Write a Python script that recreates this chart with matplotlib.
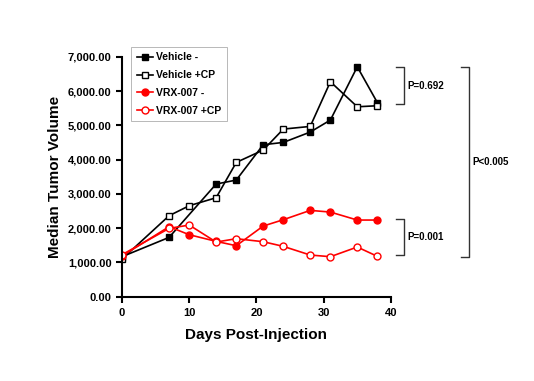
import matplotlib
matplotlib.use("Agg")
import matplotlib.pyplot as plt
from matplotlib.ticker import FuncFormatter

plt.rcParams['font.family'] = ['Liberation Sans', 'DejaVu Sans']
plt.rcParams['font.weight'] = 'bold'

days = [0, 7, 10, 14, 17, 21, 24, 28, 31, 35, 38]
vehicle_days = [0, 7, 14, 17, 21, 24, 28, 31, 35, 38]
vehicle = [1167, 1730, 3286, 3403, 4433, 4501, 4803, 5153, 6708, 5658]
vehicle_cp = [1099, 2362, 2654, 2887, 3918, 4278, 4890, 4968, 6271, 5541, 5571]
vrx = [1186, 2042, 1808, 1614, 1487, 2061, 2246, 2518, 2469, 2236, 2236]
vrx_cp = [1225, 1993, 2090, 1594, 1692, 1604, 1468, 1215, 1167, 1449, 1176]

# brackets: (x, y_top, y_bottom, label)
brackets = [
    (40.8, 6690, 5620, "P=0.692"),
    (40.8, 2257, 1207, "P=0.001"),
    (50.4, 6708, 1167, "P<0.005"),
]

fig = plt.figure(figsize=(5.34, 3.81), dpi=100)
ax = fig.add_axes([0.2285, 0.2213, 0.5035, 0.6297])

ax.plot(vehicle_days, vehicle, "-s", color="black", mfc="black", ms=5, lw=1.2, label="Vehicle -")
ax.plot(days, vehicle_cp, "-s", color="black", mfc="white", ms=5, lw=1.2, label="Vehicle +CP")
ax.plot(days, vrx, "-o", color="red", mfc="red", ms=5, lw=1.2, label="VRX-007 -")
ax.plot(days, vrx_cp, "-o", color="red", mfc="white", ms=5, lw=1.2, label="VRX-007 +CP")

ax.set_xlim(0, 40)
ax.set_ylim(0, 7000)
ax.set_xticks([0, 10, 20, 30, 40])
ax.set_yticks(range(0, 7001, 1000))
ax.yaxis.set_major_formatter(FuncFormatter(lambda v, p: f"{v:,.2f}"))
for s in ["top", "right"]:
    ax.spines[s].set_visible(False)
for s in ["left", "bottom"]:
    ax.spines[s].set_linewidth(1.5)
ax.tick_params(width=1.5, length=4, labelsize=8)
ax.tick_params(axis="x", pad=4.5)
ax.set_xlabel("Days Post-Injection", fontsize=11, fontweight="bold", labelpad=7)
ax.set_ylabel("Median Tumor Volume", fontsize=11, fontweight="bold", labelpad=4)

leg = ax.legend(loc="upper left", bbox_to_anchor=(0.035, 1.04), fontsize=7.5, frameon=True,
                fancybox=False, handlelength=1.6, handletextpad=0.3, borderpad=0.5,
                labelspacing=0.75, borderaxespad=0)
leg.get_frame().set_edgecolor("#999999")
leg.get_frame().set_linewidth(0.6)

for x, y1, y2, label in brackets:
    w = 1.2
    ax.plot([x, x + w, x + w, x], [y1, y1, y2, y2], color="#333333", lw=1.0, clip_on=False)
    ax.text(x + w + 0.5, (y1 + y2) / 2, label, fontsize=7, fontweight="bold",
            va="center", ha="left")

fig.savefig("out.png", dpi=100)
